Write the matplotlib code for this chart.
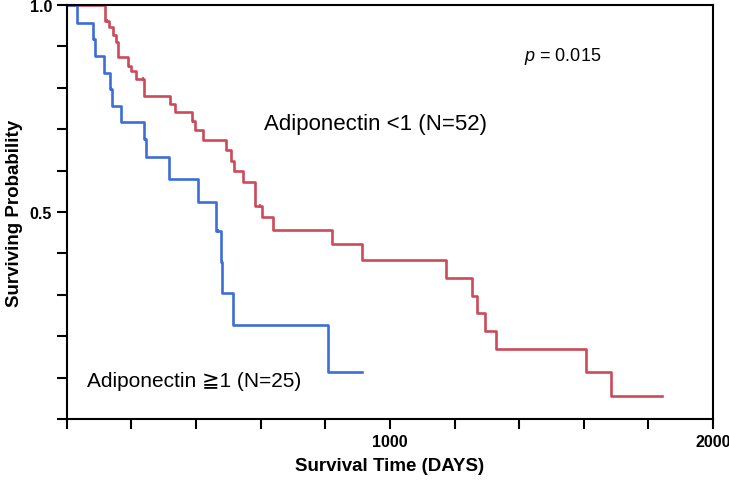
import numpy as np
import matplotlib
matplotlib.use("Agg")
from matplotlib import pyplot as plt

# Kaplan-Meier steps (days, surviving probability)
low_days = [0, 119, 132, 144, 153, 160, 189, 199, 213, 239, 320, 335, 387, 397, 423,
            493, 508, 518, 544, 583, 605, 639, 822, 915, 1173, 1253, 1271, 1294, 1328,
            1607, 1684, 1841]
low_surv = [1.0, 0.962, 0.946, 0.928, 0.910, 0.874, 0.853, 0.841, 0.821, 0.781, 0.761,
            0.741, 0.721, 0.698, 0.675, 0.650, 0.624, 0.600, 0.572, 0.514, 0.487, 0.457,
            0.423, 0.383, 0.341, 0.298, 0.255, 0.212, 0.169, 0.113, 0.055, 0.055]
low_cens_days = [125, 193, 236, 392, 598]
low_cens_surv = [0.962, 0.853, 0.821, 0.721, 0.514]

high_days = [0, 33, 81, 88, 115, 134, 140, 168, 239, 245, 318, 406, 462, 477, 482, 516,
             808, 915]
high_surv = [1.0, 0.957, 0.918, 0.876, 0.836, 0.797, 0.757, 0.717, 0.676, 0.632, 0.580,
             0.523, 0.455, 0.380, 0.304, 0.227, 0.113, 0.113]
high_cens_days = [85, 137, 242, 468, 480]
high_cens_surv = [0.918, 0.797, 0.676, 0.455, 0.380]

x_ticks = list(range(0, 2001, 200))
x_ticklabels = ["1000" if t == 1000 else "2000" if t == 2000 else "" for t in x_ticks]
y_ticks = [round(v * 0.1, 1) for v in range(11)]
y_ticklabels = ["1.0" if t == 1.0 else "0.5" if t == 0.5 else "" for t in y_ticks]

red = "#cc4a5a"
blue = "#3d6dd8"

plt.rcParams['font.family'] = ['Liberation Sans', 'DejaVu Sans']
plt.rcParams['mathtext.fontset'] = 'custom'
plt.rcParams['mathtext.it'] = 'Liberation Sans:italic'
plt.rcParams['mathtext.rm'] = 'Liberation Sans'

fig = plt.figure(figsize=(7.29, 4.81), dpi=100)
ax = fig.add_axes([0.0915, 0.1268, 0.8866, 0.8607])

# survival curves
ax.step(low_days, low_surv, where='post', color=red, lw=1.9)
ax.step(high_days, high_surv, where='post', color=blue, lw=1.9)
# censored cases as small ticks
ax.plot(low_cens_days, low_cens_surv, ls='none', marker='|', ms=3, mew=1.3, color=red)
ax.plot(high_cens_days, high_cens_surv, ls='none', marker='|', ms=3, mew=1.3, color=blue)

ax.set_xlim(0, 2000)
ax.set_ylim(0, 1.0)
ax.set_xticks(x_ticks)
ax.set_xticklabels(x_ticklabels, fontsize=11.5, fontweight='bold')
ax.set_yticks(y_ticks)
ax.set_yticklabels(y_ticklabels, fontsize=11.5, fontweight='bold')
ax.tick_params(direction='out', length=7.5, width=1.5, pad=3)

for s in ax.spines.values():
    s.set_linewidth(1.5)

ax.set_xlabel("Survival Time (DAYS)", fontsize=13.5, fontweight='bold', labelpad=6)
ax.set_ylabel("Surviving Probability", fontsize=13.5, fontweight='bold', labelpad=5)

# annotations
ax.text(1415, 0.877, r"$p$ = 0.015", fontsize=13, va='center', ha='left')
ax.text(611, 0.715, "Adiponectin <1 (N=52)", fontsize=16, va='center', ha='left')
ax.text(63, 0.094, "Adiponectin ≧1 (N=25)", fontsize=15, va='center', ha='left')

plt.savefig("out.png", dpi=100)
